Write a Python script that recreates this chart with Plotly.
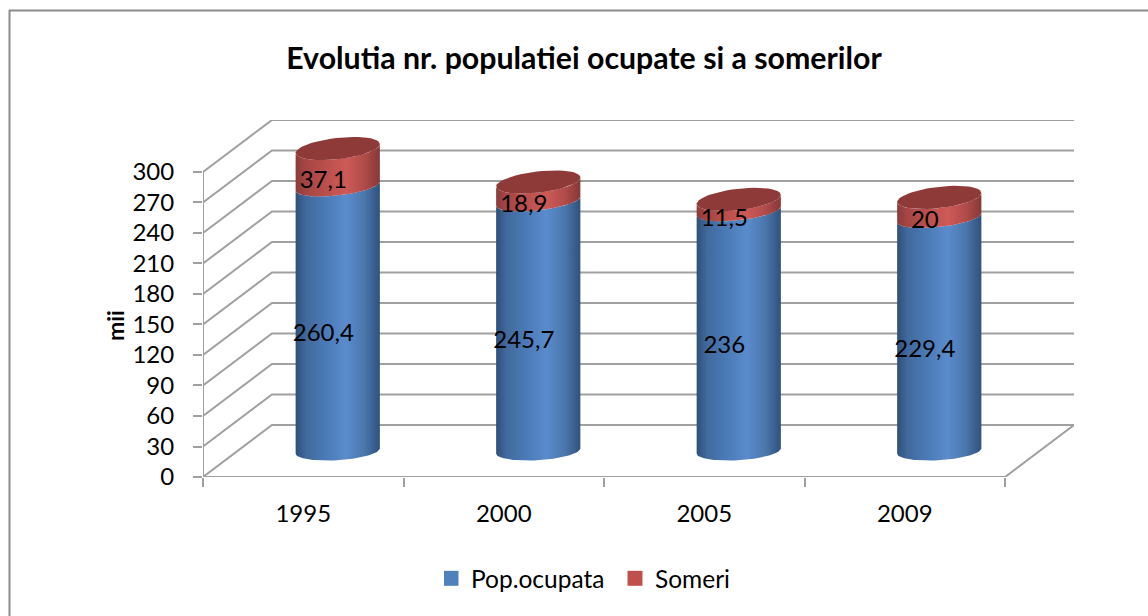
import numpy as np
import plotly.graph_objects as go

years = ["1995", "2000", "2005", "2009"]
pop_ocupata = [260.4, 245.7, 236, 229.4]
someri = [37.1, 18.9, 11.5, 20]
y_ticks = list(range(0, 301, 30))

W, H = 1148, 616
L, R, T, B = 203, 1074, 120, 477
FONT = "Lato"
GRID = "#a0a0a0"
DX, DV = 0.344, 51.1          # depth of the 3D box, in axis units
N = len(years)
HW = 0.21                     # half width of a cylinder, in categories

BLUE = [[0, "#2f4f7a"], [0.12, "#41699c"], [0.35, "#4a7ab6"], [0.6, "#5a8bcc"],
        [0.82, "#4a76ab"], [1, "#30517c"]]
RED = [[0, "#8a3b3a"], [0.12, "#a54644"], [0.35, "#b94f4c"], [0.6, "#cd5a57"],
       [0.82, "#b04b49"], [1, "#863837"]]
TOP = "#8e3a39"


def arc(cx, cv, t0, t1, b, s):
    t = np.linspace(t0, t1, 48)
    return cx + HW * np.cos(t), cv + s * np.cos(t) + b * np.sin(t)


fig = go.Figure()

# 3D box: gridlines on side and back wall, floor, front axes
gx, gy = [], []
for v in y_ticks:
    gx += [0, DX, N + DX, None]
    gy += [v, v + DV, v + DV, None]
gx += [0, N, N + DX, None, 0, 0]
gy += [0, 0, DV, None, 0, y_ticks[-1]]
fig.add_trace(go.Scatter(x=gx, y=gy, mode="lines", line=dict(color=GRID, width=2),
                         showlegend=False, hoverinfo="skip", cliponaxis=False))

# Cylinders
for i in range(N):
    cx = i + 0.5 + DX / 2
    base = DV / 2
    v1 = base + pop_ocupata[i]
    v2 = v1 + someri[i]
    x0, y0 = arc(cx, base, np.pi, 2 * np.pi, 9, 2.5)
    x1, y1 = arc(cx, v1, 2 * np.pi, np.pi, 9, 4.5)
    fig.add_trace(go.Scatter(x=np.r_[x0, x1], y=np.r_[y0, y1], mode="lines", fill="toself",
                             line=dict(width=0), showlegend=False, hoverinfo="skip",
                             fillgradient=dict(type="horizontal", colorscale=BLUE)))
    x2, y2 = arc(cx, v1, np.pi, 2 * np.pi, 9, 4.5)
    x3, y3 = arc(cx, v2, 2 * np.pi, np.pi, 10.5, 4.5)
    fig.add_trace(go.Scatter(x=np.r_[x2, x3], y=np.r_[y2, y3], mode="lines", fill="toself",
                             line=dict(width=0), showlegend=False, hoverinfo="skip",
                             fillgradient=dict(type="horizontal", colorscale=RED)))
    x4, y4 = arc(cx, v2, 0, 2 * np.pi, 10.5, 4.5)
    fig.add_trace(go.Scatter(x=x4, y=y4, mode="lines", fill="toself", fillcolor=TOP,
                             line=dict(width=0), showlegend=False, hoverinfo="skip"))

# Data labels
def fmt(v):
    return str(v).replace(".", ",")

lx = [i + 0.6 for i in range(N)]
fig.add_trace(go.Scatter(x=lx, y=[p / 2 + 9.5 for p in pop_ocupata], mode="text",
                         text=[fmt(v) for v in pop_ocupata], showlegend=False, hoverinfo="skip",
                         textfont=dict(family=FONT, size=24, color="#000000")))
fig.add_trace(go.Scatter(x=lx, y=[p + s / 2 + 11 for p, s in zip(pop_ocupata, someri)], mode="text",
                         text=[fmt(v) for v in someri], showlegend=False, hoverinfo="skip",
                         textfont=dict(family=FONT, size=24, color="#000000")))

# Legend entries
for name, col in (("Pop.ocupata", "#4f81bd"), ("Someri", "#c0504d")):
    fig.add_trace(go.Scatter(x=[None], y=[None], mode="markers", name=name,
                             marker=dict(symbol="square", size=15, color=col)))

fig.update_layout(
    width=W, height=H, autosize=False,
    margin=dict(l=L, r=W - R, t=T, b=H - B, pad=0),
    paper_bgcolor="#ffffff", plot_bgcolor="#ffffff",
    font=dict(family=FONT, size=24, color="#000000"),
    title=dict(text="<b>Evolutia nr. populatiei ocupate si a somerilor</b>",
               font=dict(family=FONT, size=30.3, color="#000000"),
               x=584 / W, xanchor="center", xref="container",
               y=1 - 58 / H, yanchor="middle"),
    xaxis=dict(range=[0, N + DX], showgrid=False, zeroline=False, showline=False,
               tickmode="array", tickvals=[i + 0.5 for i in range(N)], ticktext=years,
               ticks="", ticklabelstandoff=20,
               minor=dict(tickmode="array", tickvals=list(range(N + 1)), ticks="outside",
                          ticklen=9, tickwidth=2, tickcolor=GRID)),
    yaxis=dict(range=[0, 300 + DV], showgrid=False, zeroline=False, showline=False,
               tickmode="array", tickvals=y_ticks, ticks="outside", ticklen=9, tickwidth=2,
               tickcolor=GRID, ticklabelstandoff=14),
    legend=dict(orientation="h", x=(324 - 90 + 7) / 871, xanchor="left", y=-0.284, yanchor="middle",
                font=dict(family=FONT, size=24.5), itemwidth=30, indentation=-13,
                entrywidth=152, entrywidthmode="pixels", bgcolor="rgba(0,0,0,0)"),
    shapes=[
        dict(type="line", xref="paper", yref="paper", x0=(9 - L) / (R - L), x1=(W - L) / (R - L),
             y0=(B - 10.5) / (B - T), y1=(B - 10.5) / (B - T), line=dict(color="#8c8c8c", width=2)),
        dict(type="line", xref="paper", yref="paper", x0=(9.5 - L) / (R - L), x1=(9.5 - L) / (R - L),
             y0=(B - 10) / (B - T), y1=(B - H) / (B - T), line=dict(color="#8c8c8c", width=2)),
    ],
    annotations=[dict(text="<b>mii</b>", xref="paper", yref="paper", xanchor="center", yanchor="middle",
                      x=(115 - L) / (R - L), y=(B - 326) / (B - T), showarrow=False, textangle=-90,
                      font=dict(family=FONT, size=23, color="#000000"))],
)

fig.write_html("out.html", post_script="document.body.style.margin='0';document.body.style.overflow='hidden';",
               config={"displayModeBar": False})
